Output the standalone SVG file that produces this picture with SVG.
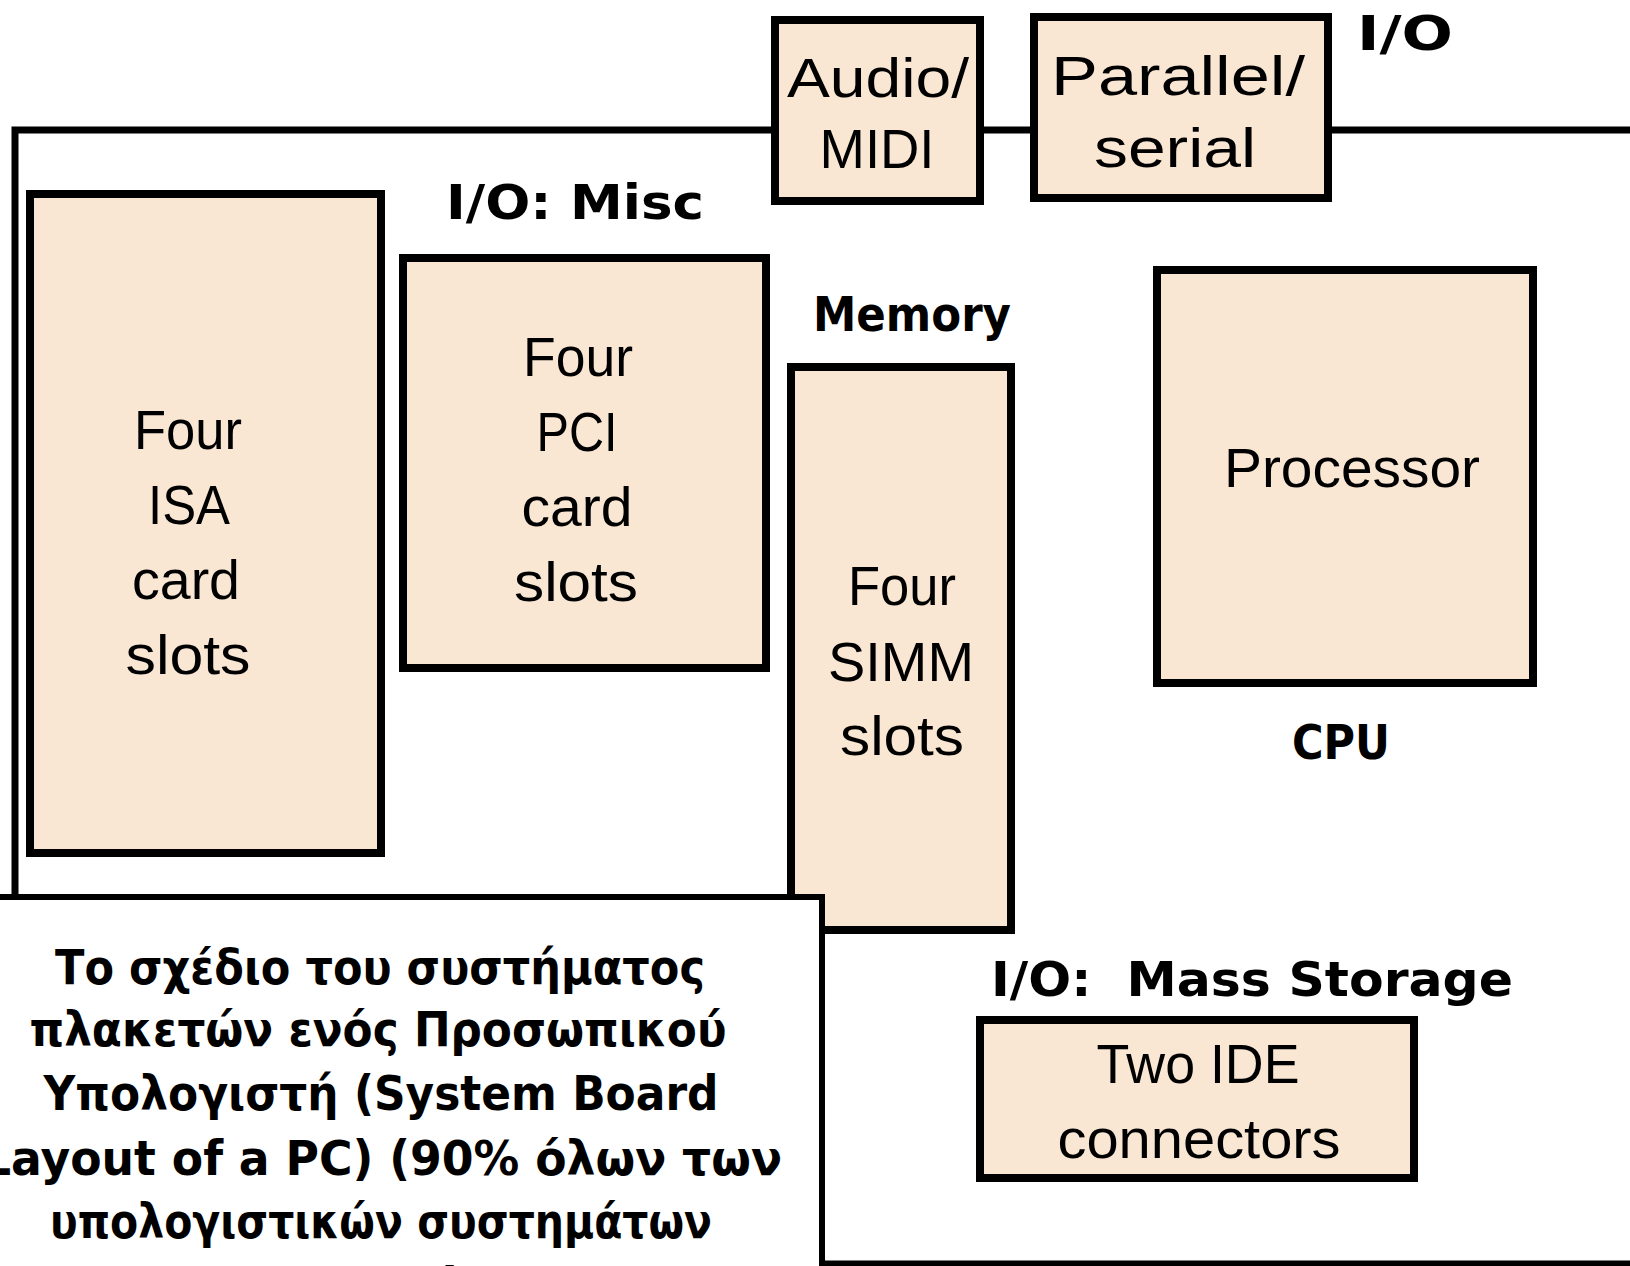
<svg xmlns="http://www.w3.org/2000/svg" width="1630" height="1266" viewBox="0 0 1630 1266">
<style>
.node{fill:#F9E6D3;stroke:#000;stroke-width:8}
.nt{font-family:"Liberation Sans",Arial,sans-serif;font-size:56px;fill:#000;text-anchor:middle}
.lb{font-family:"DejaVu Sans",sans-serif;font-weight:bold;font-size:48px;fill:#000}
.cap{font-family:"DejaVu Sans",sans-serif;font-weight:bold;font-size:48px;fill:#000;text-anchor:middle}
</style>
<rect width="1630" height="1266" fill="#fff"/>
<g id="board">
<rect x="15" y="130" width="1640" height="1134" fill="none" stroke="#000" stroke-width="7"/>
</g>
<g id="connectors"></g>
<g id="audio-midi">
<rect class="node" x="775" y="20" width="205" height="181"/>
<text class="nt" x="878" y="97" textLength="182" lengthAdjust="spacingAndGlyphs">Audio/</text>
<text class="nt" x="877" y="168" textLength="115" lengthAdjust="spacingAndGlyphs">MIDI</text>
</g>
<g id="parallel-serial">
<rect class="node" x="1034" y="17" width="294" height="181"/>
<text class="nt" x="1178" y="95" textLength="254" lengthAdjust="spacingAndGlyphs">Parallel/</text>
<text class="nt" x="1175" y="167" textLength="162" lengthAdjust="spacingAndGlyphs">serial</text>
</g>
<g id="isa">
<rect class="node" x="30" y="194" width="351" height="659"/>
<text class="nt" x="188" y="449" textLength="108" lengthAdjust="spacingAndGlyphs">Four</text>
<text class="nt" x="189" y="524" textLength="82" lengthAdjust="spacingAndGlyphs">ISA</text>
<text class="nt" x="186" y="599" textLength="108" lengthAdjust="spacingAndGlyphs">card</text>
<text class="nt" x="188" y="674" textLength="125" lengthAdjust="spacingAndGlyphs">slots</text>
</g>
<g id="pci">
<rect class="node" x="403" y="258" width="363" height="410"/>
<text class="nt" x="578" y="376" textLength="110" lengthAdjust="spacingAndGlyphs">Four</text>
<text class="nt" x="577" y="451" textLength="81" lengthAdjust="spacingAndGlyphs">PCI</text>
<text class="nt" x="577" y="526" textLength="111" lengthAdjust="spacingAndGlyphs">card</text>
<text class="nt" x="576" y="601" textLength="124" lengthAdjust="spacingAndGlyphs">slots</text>
</g>
<g id="simm">
<rect class="node" x="791" y="367" width="220" height="563"/>
<text class="nt" x="902" y="605" textLength="108" lengthAdjust="spacingAndGlyphs">Four</text>
<text class="nt" x="901" y="681" textLength="146" lengthAdjust="spacingAndGlyphs">SIMM</text>
<text class="nt" x="902" y="755" textLength="124" lengthAdjust="spacingAndGlyphs">slots</text>
</g>
<g id="processor">
<rect class="node" x="1157" y="270" width="376" height="413"/>
<text class="nt" x="1352" y="487" textLength="256" lengthAdjust="spacingAndGlyphs">Processor</text>
</g>
<g id="ide">
<rect class="node" x="980" y="1020" width="434" height="158"/>
<text class="nt" x="1198" y="1083" textLength="203" lengthAdjust="spacingAndGlyphs">Two IDE</text>
<text class="nt" x="1199" y="1158" textLength="283" lengthAdjust="spacingAndGlyphs">connectors</text>
</g>
<g id="labels">
<text class="lb" x="1357" y="50" textLength="96" lengthAdjust="spacingAndGlyphs">I/O</text>
<text class="lb" x="446" y="219" textLength="258" lengthAdjust="spacingAndGlyphs">I/O: Misc</text>
<text class="lb" x="813" y="331" textLength="198" lengthAdjust="spacingAndGlyphs">Memory</text>
<text class="lb" x="1292" y="759" textLength="98" lengthAdjust="spacingAndGlyphs">CPU</text>
<text class="lb" x="991" y="996" textLength="522" lengthAdjust="spacingAndGlyphs" xml:space="preserve">I/O:  Mass Storage</text>
</g>
<g id="caption">
<rect x="-10" y="897" width="832" height="500" fill="#fff" stroke="#000" stroke-width="6"/>
<text class="cap" x="380" y="984" textLength="650" lengthAdjust="spacingAndGlyphs">Το σχέδιο του συστήματος</text>
<text class="cap" x="378" y="1046" textLength="697" lengthAdjust="spacingAndGlyphs">πλακετών ενός Προσωπικού</text>
<text class="cap" x="381" y="1110" textLength="675" lengthAdjust="spacingAndGlyphs">Υπολογιστή (System Board</text>
<text class="cap" x="382" y="1175" textLength="800" lengthAdjust="spacingAndGlyphs">Layout of a PC) (90% όλων των</text>
<text class="cap" x="381" y="1238" textLength="662" lengthAdjust="spacingAndGlyphs">υπολογιστικών συστημάτων</text>
<text class="cap" x="364" y="1302" textLength="205" lengthAdjust="spacingAndGlyphs">Τα PC)</text>
</g>
</svg>
